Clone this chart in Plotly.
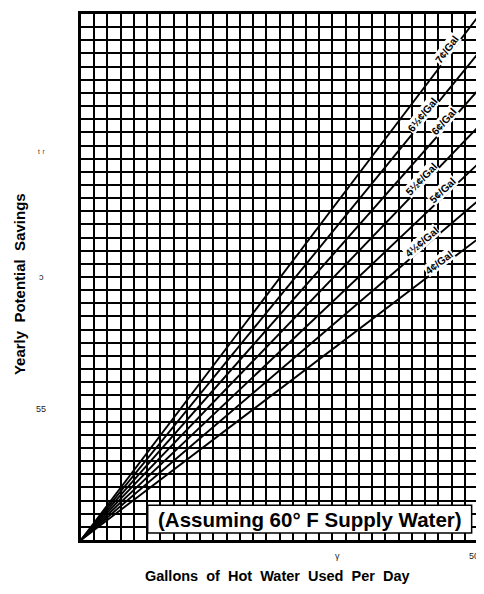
import math
import plotly.graph_objects as go

# ---- data ----
gallons = [0, 50]
cost_labels = ["7¢/Gal", "6½¢/Gal", "6¢/Gal", "5½¢/Gal", "5¢/Gal", "4½¢/Gal", "4¢/Gal"]
savings_at_50 = [19.9, 18.5, 17.1, 15.7, 14.3, 12.9, 11.45]
label_x = [46.6, 43.4, 46.2, 43.3, 46.0, 43.3, 45.5]

y_tick_vals = [5, 10, 15]
y_tick_text = ["55", "ͻ", "ᵗ ʳ"]
x_tick_vals = [32.3, 50]
x_tick_text = ["γ", "50"]

X_MAX, Y_MAX = 50, 20
# page body has a small margin; size the figure so the plot lands where the reference has it
W, H = 476, 586
ML, MR, MT, MB = 73, 6, 3, 54
PW, PH = W - ML - MR, H - MT - MB
FONT = "Liberation Sans, Arial, sans-serif"

fig = go.Figure()
for name, v in zip(cost_labels, savings_at_50):
    fig.add_trace(go.Scatter(
        x=gallons, y=[0, v], mode="lines", name=name,
        line=dict(color="black", width=1.9), showlegend=False, hoverinfo="skip"))

annotations = []
for name, v, lx in zip(cost_labels, savings_at_50, label_x):
    ly = v / 50 * lx
    slope_px = (v / Y_MAX * PH) / (50 / X_MAX * PW)
    ang = math.degrees(math.atan(slope_px))
    annotations.append(dict(
        x=lx, y=ly, xref="x", yref="y", text="<b>" + name + "</b>",
        showarrow=False, textangle=-ang, xanchor="center", yanchor="middle",
        font=dict(family=FONT, size=10.5, color="black"),
        bgcolor="white", borderpad=0,
        xshift=-5 * math.sin(math.radians(ang)), yshift=5 * math.cos(math.radians(ang))))

for v, t in zip(y_tick_vals, y_tick_text):
    annotations.append(dict(x=-0.1, y=v, xref="paper", yref="y", text=t, showarrow=False,
                            xanchor="center", yanchor="middle",
                            font=dict(family=FONT, size=9, color="#222")))
annotations[-1]["yshift"] = -7
for v, t in zip(x_tick_vals, x_tick_text):
    annotations.append(dict(x=v, y=-0.03, xref="x", yref="paper", text=t, showarrow=False,
                            xanchor="center", yanchor="middle",
                            font=dict(family=FONT, size=9, color="#222")))
# keep the right-edge "50" inside the page
annotations[-1]["xanchor"] = "right"
annotations[-1]["xshift"] = 3

annotations.append(dict(x=-0.153, y=0.487, xref="paper", yref="paper",
                        text="<b>Yearly  Potential  Savings</b>", textangle=-90, showarrow=False,
                        xanchor="center", yanchor="middle",
                        font=dict(family=FONT, size=15, color="black")))
annotations.append(dict(x=0.495, y=-0.068, xref="paper", yref="paper",
                        text="<b>Gallons  of  Hot  Water  Used  Per  Day</b>", showarrow=False,
                        xanchor="center", yanchor="middle",
                        font=dict(family=FONT, size=14.5, color="black")))
annotations.append(dict(x=28.8, y=0.79, xref="x", yref="y",
                        text="<b>(Assuming 60° F Supply Water)</b>", showarrow=False,
                        xanchor="center", yanchor="middle",
                        font=dict(family=FONT, size=20.5, color="black")))

shapes = [dict(type="rect", xref="x", yref="y", x0=8.4, x1=49.2, y0=0.27, y1=1.32,
               fillcolor="white", line=dict(color="black", width=1.5), layer="above")]

fig.update_layout(
    width=W, height=H, margin=dict(l=ML, r=MR, t=MT, b=MB),
    paper_bgcolor="white", plot_bgcolor="white",
    annotations=annotations, shapes=shapes,
    xaxis=dict(range=[0, X_MAX], dtick=X_MAX / 30, tick0=0, showgrid=True,
               gridcolor="black", gridwidth=1.8, showticklabels=False, ticks="",
               zeroline=False, showline=True, linecolor="black", linewidth=2.5, mirror=True,
               fixedrange=True),
    yaxis=dict(range=[0, Y_MAX], dtick=0.5, tick0=0, showgrid=True,
               gridcolor="black", gridwidth=1.8, showticklabels=False, ticks="",
               zeroline=False, showline=True, linecolor="black", linewidth=2.5, mirror=True,
               fixedrange=True),
)
fig.write_html("out.html")
